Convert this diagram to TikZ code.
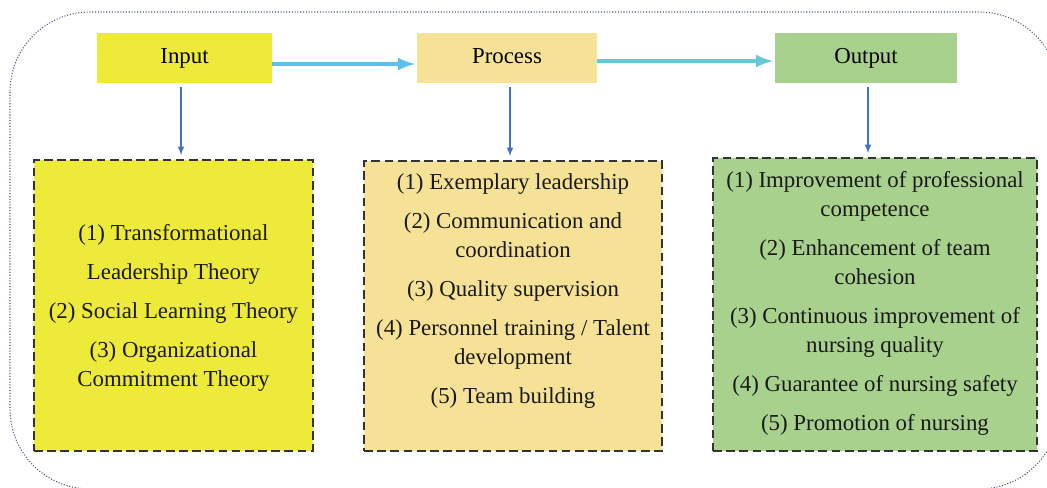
\documentclass[tikz,border=0pt]{standalone}
\usepackage{fontspec}
\setmainfont{Liberation Serif}
\definecolor{inputyellow}{RGB}{238,234,58}
\definecolor{processtan}{RGB}{246,226,150}
\definecolor{outputgreen}{RGB}{169,209,142}
\definecolor{flowblue}{RGB}{91,192,235}
\definecolor{flowteal}{RGB}{104,200,218}
\definecolor{linkblue}{RGB}{68,114,196}
\definecolor{framegray}{RGB}{70,85,125}
\begin{document}
\begin{tikzpicture}
	[
		x=0.02cm, y=-0.02cm,
		every node/.style={font=\fontsize{13}{16.5}\selectfont},
		flow/.style={line width=2.3pt, -latex, shorten >=1pt},
		link/.style={draw=linkblue, line width=0.7pt, -latex, shorten <=0.08cm, shorten >=0.08cm}
	]
	\tikzstyle{Title} = [rectangle, minimum height=1cm, text height=2ex, text depth=0.72ex, text centered, fill=#1]
	\tikzstyle{Detail} = [rectangle, minimum height=5.82cm, draw=black!80, line width=0.9pt, dash pattern=on 5pt off 2.5pt, fill=#1]
	\tikzstyle{List} = [align=center, text=black!90]

	\useasboundingbox (0,0) rectangle (1047,487);
	\clip (0,0) rectangle (1047,487);
	% dotted frame round everything
	\draw[framegray, densely dotted, line width=0.6pt, rounded corners=1.6cm] (10,12) rectangle (1059,489);

	% top row
	\node [Title=inputyellow, minimum width=3.5cm] (input) at (184.5,58) {Input};
	\node [Title=processtan, minimum width=3.6cm] (process) at (507,58) {Process};
	\node [Title=outputgreen, minimum width=3.64cm] (output) at (866,58) {Output};

	% dashed boxes below
	\node [Detail=inputyellow, minimum width=5.58cm] (inputbox) at (173.5,305.5) {};
	\node [Detail=processtan, minimum width=5.96cm, minimum height=5.8cm] (processbox) at (513,306) {};
	\node [Detail=outputgreen, minimum width=6.48cm, minimum height=5.86cm] (outputbox) at (875,304.5) {};

	\node [List] (inputlist) at ([yshift=-0.05cm]inputbox.center)
		{(1) Transformational\\[5.7pt] Leadership Theory\\[5.7pt] (2) Social Learning Theory\\[5.7pt] (3) Organizational\\ Commitment Theory};
	\node [List] (processlist) at ([yshift=0.3cm]processbox.center)
		{(1) Exemplary leadership\\[5.7pt] (2) Communication and\\ coordination\\[5.7pt] (3) Quality supervision\\[5.7pt] (4) Personnel training / Talent\\ development\\[5.7pt] (5) Team building};
	\node [List] (outputlist) at ([yshift=0.03cm]outputbox.center)
		{(1) Improvement of professional\\ competence\\[5.7pt] (2) Enhancement of team\\ cohesion\\[5.7pt] (3) Continuous improvement of\\ nursing quality\\[5.7pt] (4) Guarantee of nursing safety\\[5.7pt] (5) Promotion of nursing};

	% arrows
	\draw [flow, flowblue] ([yshift=-0.12cm]input.east) -- ([yshift=-0.12cm]process.west);
	\draw [flow, flowteal] ([yshift=-0.06cm]process.east) -- ([yshift=-0.06cm]output.west);
	\draw [link] ([xshift=-0.07cm]input.south) -- ([xshift=-0.07cm]input.south |- inputbox.north);
	\draw [link] ([xshift=0.06cm]process.south) -- ([xshift=0.06cm]process.south |- processbox.north);
	\draw [link] ([xshift=0.04cm]output.south) -- ([xshift=0.04cm]output.south |- outputbox.north);
\end{tikzpicture}
\end{document}
